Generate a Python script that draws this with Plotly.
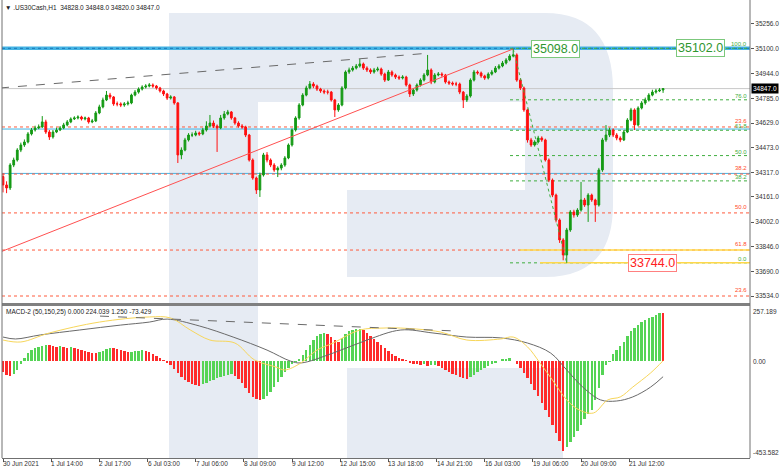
import plotly.graph_objects as go

# ---------------- data ----------------
first_open = 34290
closes = [34237,34218,34363,34395,34458,34490,34509,34560,34585,34598,
          34604,34636,34572,34541,34572,34585,34598,34617,34636,34655,
          34661,34667,34655,34661,34636,34642,34693,34731,34775,34806,
          34794,34750,34750,34743,34750,34756,34806,34825,34844,34857,
          34863,34870,34863,34851,34832,34813,34787,34794,34756,34427,
          34458,34522,34553,34553,34566,34560,34585,34610,34629,34610,
          34598,34661,34686,34699,34661,34629,34610,34604,34553,34395,
          34281,34205,34300,34427,34395,34363,34332,34344,34363,34408,
          34490,34585,34661,34743,34806,34851,34876,34863,34844,34832,
          34825,34825,34775,34712,34743,34851,34952,34965,34977,34990,
          35003,34977,34965,34952,34965,34971,34939,34901,34952,34933,
          34920,34914,34920,34870,34813,34838,34870,34901,34933,34965,
          34889,34933,34939,34933,34889,34882,34876,34876,34825,34775,
          34800,34901,34952,34946,34927,34914,34939,34952,34977,34990,
          35009,35028,35053,35060,34901,34851,34712,34522,34490,34509,
          34534,34522,34395,34268,34173,34015,33889,33794,33952,34066,
          34047,34078,34142,34110,34173,34142,34110,34332,34522,34553,
          34585,34553,34534,34522,34572,34648,34712,34617,34724,34756,
          34775,34806,34825,34832,34838,34847]
highs = [34310,34260,34375,34410,34470,34505,34525,34572,34598,34612,
         34620,34673,34650,34585,34585,34600,34610,34630,34648,34665,
         34672,34678,34675,34670,34668,34655,34705,34745,34790,34832,
         34820,34800,34765,34760,34762,34770,34815,34838,34855,34868,
         34875,34882,34880,34870,34858,34840,34820,34805,34800,34762,
         34475,34535,34565,34570,34580,34575,34598,34640,34680,34645,
         34620,34680,34705,34712,34705,34668,34640,34622,34612,34560,
         34405,34290,34315,34440,34445,34405,34375,34355,34375,34420,
         34500,34595,34672,34755,34818,34865,34895,34888,34872,34852,
         34842,34840,34832,34782,34755,34862,34962,34980,34990,35003,
         35034,35012,34988,34975,34978,34985,34980,34948,34965,34962,
         34942,34930,34932,34928,34878,34850,34880,34912,34945,35060,
         34975,34945,34952,34950,34940,34898,34892,34890,34885,34832,
         34812,34912,34965,34962,34955,34935,34950,34965,34990,35002,
         35022,35040,35065,35098,35070,34912,34860,34720,34535,34520,
         34548,34545,34530,34405,34278,34182,34025,33900,33965,34078,
         34080,34090,34256,34155,34185,34182,34150,34345,34535,34616,
         34600,34595,34565,34545,34585,34660,34725,34722,34735,34768,
         34790,34818,34840,34845,34850,34848]
lows = [34190,34185,34205,34350,34385,34445,34478,34500,34550,34575,
        34590,34598,34560,34522,34530,34565,34578,34590,34608,34628,
        34648,34652,34645,34646,34625,34628,34635,34685,34722,34768,
        34780,34738,34735,34730,34732,34740,34748,34798,34815,34835,
        34848,34855,34852,34840,34822,34800,34775,34778,34745,34376,
        34400,34450,34512,34540,34545,34548,34552,34575,34600,34598,
        34446,34590,34650,34678,34650,34618,34600,34592,34540,34385,
        34270,34180,34161,34290,34380,34350,34320,34287,34330,34352,
        34400,34480,34575,34650,34735,34798,34842,34850,34832,34820,
        34812,34810,34765,34667,34700,34735,34842,34940,34955,34968,
        34980,34965,34952,34940,34942,34955,34928,34889,34895,34922,
        34908,34902,34905,34860,34794,34800,34828,34860,34892,34925,
        34875,34880,34925,34922,34878,34870,34865,34862,34812,34724,
        34762,34790,34892,34935,34915,34902,34905,34930,34945,34968,
        34982,35000,35020,35045,34890,34838,34700,34505,34478,34480,
        34500,34510,34385,34255,34160,34000,33870,33760,33744,33940,
        34030,34035,34068,34098,34003,34130,34003,34100,34320,34510,
        34540,34540,34520,34508,34515,34565,34640,34585,34608,34715,
        34745,34765,34798,34815,34825,34820]

macd_hist = [-51.4,-65.5,-70.1,-60.8,-42.1,-14.0,14.0,37.4,51.4,60.8,
             67.8,72.5,74.8,73.4,70.1,67.8,70.1,65.5,63.1,65.5,
             60.8,56.1,51.4,46.8,42.1,39.7,37.4,42.1,49.1,56.1,
             60.8,58.5,56.1,51.4,46.8,42.1,44.4,46.8,49.1,49.5,
             46.8,42.1,32.7,23.4,14.0,4.7,-4.7,-18.7,-37.4,-56.1,
             -74.8,-88.8,-98.2,-107.5,-112.2,-114.6,-107.5,-102.9,-93.5,-86.5,
             -79.5,-74.8,-70.1,-65.5,-63.1,-70.1,-84.2,-102.9,-126.3,-149.6,
             -168.3,-177.7,-182.4,-177.7,-163.7,-145.0,-121.6,-98.2,-74.8,-51.4,
             -32.7,-14.0,-2.3,9.4,28.1,51.4,74.8,98.2,116.9,126.3,
             130.9,126.3,112.2,98.2,88.8,107.5,126.3,140.3,145.0,149.6,
             150.0,145.0,130.9,116.9,102.9,88.8,74.8,60.8,46.8,32.7,
             23.4,14.0,7.0,2.3,-4.7,-11.7,-14.0,-21.0,-14.0,-23.4,
             -18.7,-16.4,-23.4,-32.7,-42.1,-51.4,-58.5,-65.5,-72.5,-79.5,
             -84.2,-74.8,-65.5,-51.4,-42.1,-32.7,-23.4,-14.0,-4.7,0.0,
             7.0,11.7,14.0,0.0,-14.0,-32.7,-56.1,-79.5,-107.5,-135.6,
             -163.7,-196.4,-229.1,-261.9,-299.3,-336.7,-374.1,-420.0,-402.1,-378.8,
             -355.4,-327.3,-299.3,-271.2,-247.8,-229.1,-182.4,-126.3,-65.5,-18.7,
             -2.3,32.7,51.4,70.1,88.8,116.9,140.3,154.3,168.3,182.4,
             191.7,201.1,208.1,215.1,226.5,224.0]

macd_main_x = [0,7,21,43,66,82,92,110,129,148,161,167,185,204,223,241,260,279,294,307,316,325,335,344,353,363,370]
macd_main = [112,103,122,145,168,182,196,164,112,51,0,-9,37,98,145,131,112,108,84,37,-42,-122,-182,-187,-168,-122,-73.429]
macd_sig_x = [0,10,26,54,82,94,105,116,130,141,153,158,167,176,185,200,213,223,245,260,279,286,294,301,308,316,323,331,339,346,353,363,370]
macd_sig = [98,89,131,182,206,201,145,98,84,5,-28,-42,-9,51,84,145,154,154,136,98,103,112,66,-9,-89,-182,-229,-243,-182,-168,-122,-56,1.25]

tick_bars = [0,27,54,81,108,135,162,189,216,243,270,297,324,351]
tick_labels = ["30 Jun 2021","1 Jul 14:00","2 Jul 17:00","6 Jul 03:00","7 Jul 06:00",
               "8 Jul 09:00","9 Jul 12:00","12 Jul 15:00","13 Jul 18:00","14 Jul 21:00",
               "16 Jul 03:00","19 Jul 06:00","20 Jul 09:00","21 Jul 12:00"]
price_ticks = [35256,35100,34944,34785,34629,34473,34317,34161,34002,33846,33690,33534]

swing_high = 35098.0
swing_low = 33744.0
fib_top = 35102.0
green_levels = [100.0,76.0,61.8,50.0,38.2,0.0]
green_level_labels = ["100.0","76.0","61.8","50.0","38.2","0.0"]
red_level_prices = [34604,34306,34060,33825,33534]
red_level_labels = ["23.6","38.2","50.0","61.8","23.6"]
cyan_levels = [34591,34310]
last_price = 34847.0

# ---------------- geometry helpers (styling only) ----------------
W, H = 782, 470
ML, MR, MT, MB = 2, 32, 0, 12
PW, PH = W - ML - MR, H - MT - MB
PX_PER_BAR = 1.784
X0PX = 3
def bx(px):  # pixel x -> bar coordinate
    return (px - X0PX) / PX_PER_BAR
x_lo, x_hi = bx(ML), bx(ML + PW)
def pxp(x, y):
    return f"{(x-ML)/PW:.5f},{(PH-(y-MT))/PH:.5f}"

n = len(closes)
xb = [2 * i for i in range(n)]
opens = [first_open] + closes[:-1]

hist_colors = []
for i, v in enumerate(macd_hist):
    prev = macd_hist[i-1] if i > 0 else v + 1
    hist_colors.append("#55d455" if v >= prev else "#ff2a2a")

main_dom = [1 - 303 / PH, 1]
macd_dom = [0, (PH - 306) / PH]
y_main = [33489.7, 35407.9]
y_macd = [-453.582, 257.189]

fig = go.Figure()
fig.add_trace(go.Candlestick(
    x=xb, open=opens, high=highs, low=lows, close=closes,
    increasing=dict(line=dict(color="#159a15", width=1), fillcolor="#159a15"),
    decreasing=dict(line=dict(color="#ff1010", width=1), fillcolor="#ff1010"),
    whiskerwidth=0, xaxis="x", yaxis="y", hoverinfo="skip"))
fig.add_trace(go.Bar(x=xb, y=macd_hist, marker=dict(color=hist_colors, line=dict(width=0)),
                     width=1.35, xaxis="x2", yaxis="y2", hoverinfo="skip"))
fig.add_trace(go.Scatter(x=macd_main_x, y=macd_main, mode="lines", line=dict(color="#6a6a6a", width=1, shape="spline"),
                         xaxis="x2", yaxis="y2", hoverinfo="skip"))
fig.add_trace(go.Scatter(x=macd_sig_x, y=macd_sig, mode="lines", line=dict(color="#f7d65a", width=1, shape="spline"),
                         xaxis="x2", yaxis="y2", hoverinfo="skip"))

shapes = []
# watermark logo
logo = "#e6ebf3"
bowl = ("M " + pxp(169, 13) + " L " + pxp(545, 13) + " Q " + pxp(613, 13) + " " + pxp(613, 90) +
        " L " + pxp(613, 205) + " Q " + pxp(613, 277) + " " + pxp(545, 277) + " L " + pxp(347, 277) +
        " L " + pxp(347, 190) + " L " + pxp(525, 190) + " L " + pxp(525, 102) + " L " + pxp(258, 102) +
        " L " + pxp(258, 458) + " L " + pxp(169, 458) + " Z")
leg = "M " + pxp(347, 368) + " L " + pxp(563, 368) + " L " + pxp(563, 458) + " L " + pxp(347, 458) + " Z"
for p in (bowl, leg):
    shapes.append(dict(type="path", path=p, xref="paper", yref="paper", fillcolor=logo, line=dict(width=0), layer="below"))

# horizontal levels
def hline(y, color, width=1, dash="solid", x0=None, x1=None, layer="below"):
    if x0 is None:
        shapes.append(dict(type="line", xref="x domain", yref="y", x0=0, x1=1, y0=y, y1=y,
                           line=dict(color=color, width=width, dash=dash), layer=layer))
    else:
        shapes.append(dict(type="line", xref="x", yref="y", x0=x0, x1=x1, y0=y, y1=y,
                           line=dict(color=color, width=width, dash=dash), layer=layer))

hline(fib_top, "#45b4e4", 3.5)
hline(fib_top, "#1a78b8", 1, "dot")
hline(last_price, "#c8c8c8", 1)
for y in cyan_levels:
    hline(y, "#45b4e4", 1)
for y in red_level_prices:
    hline(y, "#ff5a3c", 1, "dot")
fib_x0 = bx(510)
rng = fib_top - swing_low
for lv in green_levels:
    hline(swing_low + rng * lv / 100.0, "#3fae3f", 1, "dot", fib_x0, x_hi)
hline(red_level_prices[3], "#ffd84a", 1.5, "solid", bx(520), x_hi)
hline(swing_low, "#ffd84a", 1.5, "solid", bx(540), x_hi)

# trend lines
shapes.append(dict(type="line", xref="x", yref="y", x0=bx(0), y0=34851, x1=bx(430), y1=35072,
                   line=dict(color="#6a6a6a", width=1, dash="dash")))
shapes.append(dict(type="line", xref="x", yref="y", x0=bx(0), y0=33812, x1=286, y1=swing_high,
                   line=dict(color="#ff5050", width=1)))
shapes.append(dict(type="line", xref="x", yref="y", x0=286, y0=swing_high, x1=316, y1=swing_low,
                   line=dict(color="#3fae3f", width=1, dash="dot")))
shapes.append(dict(type="line", xref="x2", yref="y2", x0=bx(100), y0=210, x1=bx(457), y1=140,
                   line=dict(color="#6a6a6a", width=1, dash="dash")))

# frame
shapes.append(dict(type="line", xref="paper", yref="paper", x0=0, x1=1, y0=(PH-304.5)/PH, y1=(PH-304.5)/PH,
                   line=dict(color="#808080", width=3)))
shapes.append(dict(type="line", xref="paper", yref="paper", x0=0, x1=0, y0=0, y1=1,
                   line=dict(color="#707070", width=1)))
shapes.append(dict(type="line", xref="paper", yref="paper", x0=1, x1=1, y0=0, y1=1,
                   line=dict(color="#707070", width=1)))

FONT = "Liberation Sans, Arial, sans-serif"
ann = []
ann.append(dict(xref="paper", yref="paper", x=0, y=1, xanchor="left", yanchor="top", xshift=1, yshift=-2,
                text="▼ .US30Cash,H1  34828.0 34848.0 34820.0 34847.0", showarrow=False,
                font=dict(family=FONT, size=6.5, color="#222")))
ann.append(dict(xref="paper", yref="paper", x=0, y=(PH-312)/PH, xanchor="left", yanchor="middle", xshift=2,
                text="MACD-2 (50,150,25) 0.000 224.039 1.250 -73.429", showarrow=False,
                font=dict(family=FONT, size=6.5, color="#222")))
for lv, lab in zip(green_levels, green_level_labels):
    ann.append(dict(xref="paper", yref="y", x=1, y=swing_low + rng * lv / 100.0, xanchor="right", yanchor="bottom",
                    xshift=-1, yshift=-1, text=lab, showarrow=False, font=dict(family=FONT, size=6, color="#3fae3f")))
for yv, lab in zip(red_level_prices, red_level_labels):
    ann.append(dict(xref="paper", yref="y", x=1, y=yv, xanchor="right", yanchor="bottom",
                    xshift=-1, yshift=1, text=lab, showarrow=False, font=dict(family=FONT, size=6, color="#ff4a2a")))
def box(x, y, txt, col, border):
    ann.append(dict(xref="x", yref="y", x=x, y=y, text=txt, showarrow=False, bgcolor="white",
                    bordercolor=border, borderwidth=1, borderpad=1,
                    font=dict(family=FONT, size=12.5, color=col)))
box(bx(555), swing_high, f"{swing_high:.1f}", "#2f962f", "#7cc87c")
box(bx(700), fib_top, f"{fib_top:.1f}", "#2f962f", "#7cc87c")
box(bx(652), swing_low, f"{swing_low:.1f}", "#ff2020", "#ff8080")
ann.append(dict(xref="paper", yref="y", x=1, y=last_price, xanchor="left", yanchor="middle", xshift=1,
                text=f"{last_price:.1f}", showarrow=False, bgcolor="black", borderpad=1,
                font=dict(family=FONT, size=6.5, color="white")))
for v, lab, ya in [(y_macd[1], "257.189", "top"), (0, "0.00", "middle"), (y_macd[0], "-453.582", "bottom")]:
    ann.append(dict(xref="paper", yref="y2", x=1, y=v, xanchor="left", yanchor=ya, xshift=1,
                    text=lab, showarrow=False, font=dict(family=FONT, size=6.5, color="#333")))
for tb, tl in zip(tick_bars, tick_labels):
    ann.append(dict(xref="x2", yref="paper", x=tb, y=0, xanchor="left", yanchor="top", xshift=-2, yshift=0,
                    text=tl, showarrow=False, font=dict(family=FONT, size=6.5, color="#333")))

fig.update_layout(
    width=W, height=H, margin=dict(l=ML, r=MR, t=MT, b=MB),
    paper_bgcolor="white", plot_bgcolor="rgba(0,0,0,0)", showlegend=False, bargap=0,
    shapes=shapes, annotations=ann,
    xaxis=dict(domain=[0, 1], range=[x_lo, x_hi], anchor="y", showticklabels=False, showgrid=False,
               zeroline=False, ticks="", rangeslider=dict(visible=False), fixedrange=True),
    yaxis=dict(domain=main_dom, range=y_main, side="right", anchor="x", tickvals=price_ticks,
               ticktext=[f"{v:.1f}" for v in price_ticks], ticks="outside", ticklen=3, tickcolor="#555",
               showgrid=False, zeroline=False, tickfont=dict(family=FONT, size=6.5, color="#333")),
    xaxis2=dict(domain=[0, 1], range=[x_lo, x_hi], anchor="y2", tickvals=tick_bars,
                ticktext=["" for _ in tick_bars], ticks="outside", ticklen=3, tickcolor="#555",
                showline=True, linecolor="#707070", linewidth=1, showgrid=False, zeroline=False),
    yaxis2=dict(domain=macd_dom, range=y_macd, side="right", anchor="x2", showticklabels=False,
                showgrid=False, zeroline=False, ticks=""),
)
fig.write_html("out.html", config={"displayModeBar": False},
               post_script="document.body.style.margin='0';document.body.style.padding='0';document.body.style.overflow='hidden';")
